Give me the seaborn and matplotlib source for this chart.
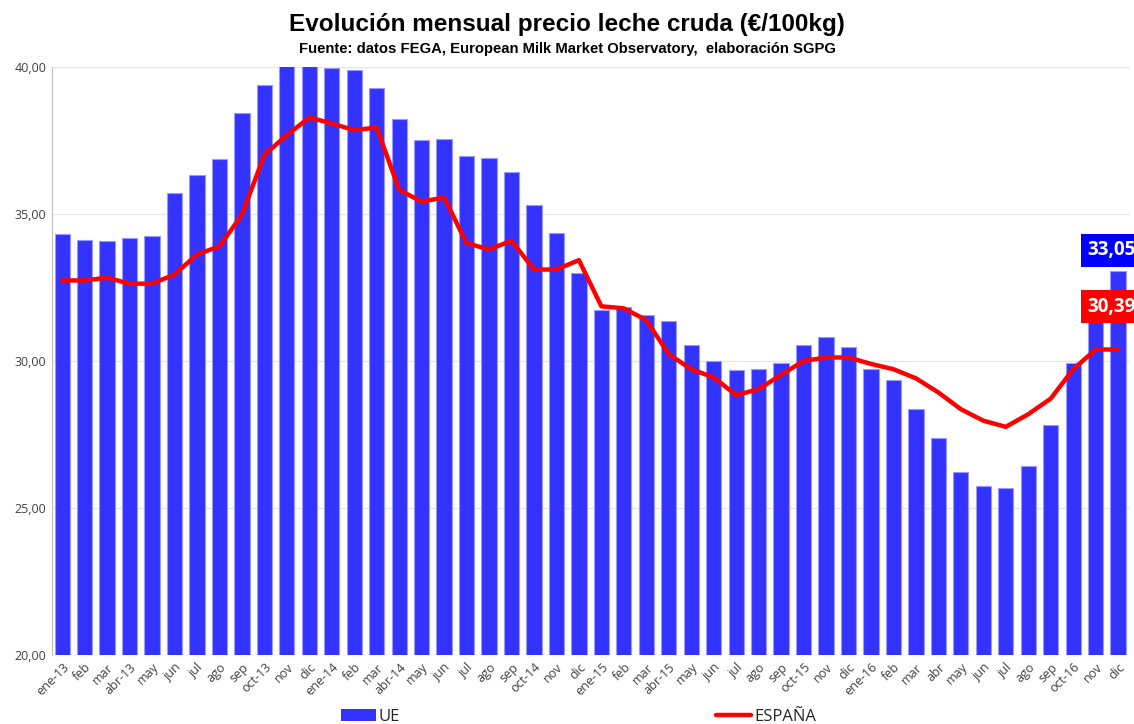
import matplotlib
matplotlib.use("Agg")
import matplotlib.pyplot as plt
import seaborn as sns
import pandas as pd
import numpy as np
from matplotlib.patches import Patch
from matplotlib.lines import Line2D

# DATOS
meses = ["ene-13", "feb", "mar", "abr-13", "may", "jun", "jul", "ago", "sep", "oct-13", "nov", "dic",
         "ene-14", "feb", "mar", "abr-14", "may", "jun", "jul", "ago", "sep", "oct-14", "nov", "dic",
         "ene-15", "feb", "mar", "abr-15", "may", "jun", "jul", "ago", "sep", "oct-15", "nov", "dic",
         "ene-16", "feb", "mar", "abr", "may", "jun", "jul", "ago", "sep", "oct-16", "nov", "dic"]

ue = [34.33, 34.13, 34.07, 34.19, 34.25, 35.70, 36.31, 36.86, 38.44, 39.40, 40.05, 40.02,
      39.98, 39.91, 39.30, 38.22, 37.52, 37.54, 36.96, 36.92, 36.42, 35.31, 34.37, 33.00,
      31.75, 31.84, 31.55, 31.35, 30.54, 30.00, 29.70, 29.72, 29.92, 30.54, 30.80, 30.49,
      29.74, 29.37, 28.35, 27.37, 26.22, 25.74, 25.69, 26.44, 27.82, 29.92, 31.70, 33.05]

espana = [32.74, 32.74, 32.83, 32.63, 32.63, 32.94, 33.62, 33.90, 34.97, 37.01, 37.68, 38.28,
          38.08, 37.85, 37.94, 35.82, 35.42, 35.56, 34.01, 33.79, 34.09, 33.11, 33.11, 33.43,
          31.86, 31.79, 31.39, 30.23, 29.72, 29.44, 28.84, 29.04, 29.53, 30.00, 30.12, 30.12,
          29.90, 29.72, 29.41, 28.93, 28.36, 27.97, 27.76, 28.19, 28.72, 29.72, 30.39, 30.39]

df = pd.DataFrame({"idx": np.arange(len(meses)), "mes": meses, "UE": ue, "ESPAÑA": espana})

sns.set_style("white")
plt.rcParams['font.family'] = ['Liberation Sans Narrow', 'Liberation Sans', 'DejaVu Sans']

fig = plt.figure(figsize=(11.34, 7.24), dpi=100)
ax = fig.add_axes([0.0459, 0.0953, 0.9506, 0.8122])

sns.barplot(data=df, x="idx", y="UE", color="#3333FF", saturation=1, width=0.68,
            edgecolor="#9999FF", linewidth=0.8, ax=ax)
sns.lineplot(data=df, x="idx", y="ESPAÑA", color="#FF0000", linewidth=3.2, ax=ax)

ax.set_ylim(20, 40)
ax.set_xlim(-0.45, 47.53)
ax.set_yticks([20, 25, 30, 35, 40])
ax.set_yticklabels(["20,00", "25,00", "30,00", "35,00", "40,00"], fontsize=9,
                   family=['Open Sans', 'DejaVu Sans'], color="#404040")
ax.set_xticks(df["idx"])
ax.set_xticklabels(meses, rotation=45, ha="right", rotation_mode="anchor", fontsize=9,
                   family=['Open Sans', 'DejaVu Sans'], color="#404040")
ax.tick_params(axis="both", length=0, pad=4)
ax.set_xlabel("")
ax.set_ylabel("")
ax.yaxis.grid(True, color="#E6E6E6", linewidth=0.9)
ax.set_axisbelow(True)
for s in ["top", "right", "bottom"]:
    ax.spines[s].set_visible(False)
ax.spines["left"].set_color("#BFBFBF")

# etiquetas de los ultimos valores
ax.text(46.7, ue[-1] + 0.72, "33,05", color="white", fontsize=13.5, fontweight="bold",
        ha="center", va="center", family=['Open Sans', 'DejaVu Sans'],
        bbox=dict(boxstyle="square,pad=0.35", facecolor="#0000FF", edgecolor="none"), clip_on=False)
ax.text(46.7, espana[-1] + 1.45, "30,39", color="white", fontsize=13.5, fontweight="bold",
        ha="center", va="center", family=['Open Sans', 'DejaVu Sans'],
        bbox=dict(boxstyle="square,pad=0.35", facecolor="#FF0000", edgecolor="none"), clip_on=False)

fig.text(0.5, 0.966, "Evolución mensual precio leche cruda (€/100kg)", ha="center", va="center",
         fontsize=17.5, fontweight="bold", color="black")
fig.text(0.5, 0.932, "Fuente: datos FEGA, European Milk Market Observatory,  elaboración SGPG",
         ha="center", va="center", fontsize=10.7, fontweight="bold", color="black")

handles = [Patch(facecolor="#3333FF", edgecolor="none"),
           Line2D([0], [0], color="#FF0000", linewidth=3.2)]
fig.legend(handles, ["UE", "ESPAÑA"], loc="center", bbox_to_anchor=(0.51, 0.01), ncol=2,
           frameon=False, columnspacing=19, handlelength=2.1, handletextpad=0.15,
           prop={'family': ['Open Sans', 'DejaVu Sans'], 'size': 12})

fig.savefig("out.png", dpi=100)
